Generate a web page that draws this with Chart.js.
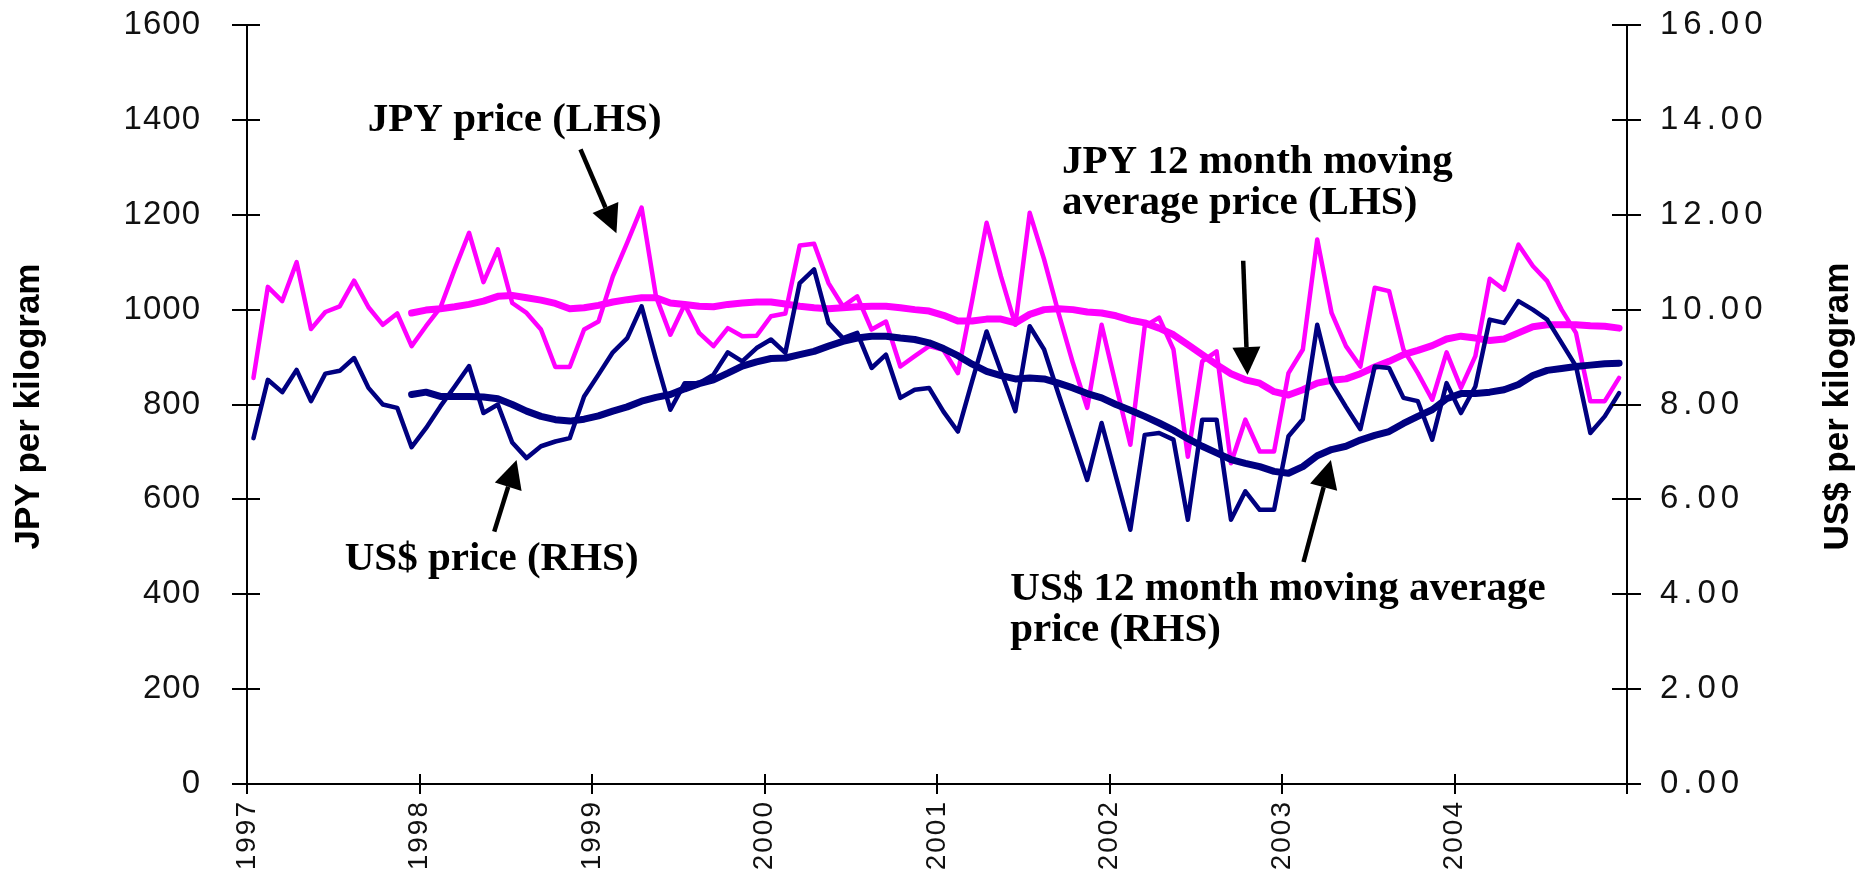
<!DOCTYPE html>
<html>
<head>
<meta charset="utf-8">
<title>JPY and US$ price per kilogram, 1997-2004</title>
<script src="https://cdn.jsdelivr.net/npm/chart.js@4.4.1/dist/chart.umd.min.js"></script>
<style>
  html, body { margin: 0; padding: 0; background: #fff; }
  #wrap { position: relative; width: 1862px; height: 882px; }
</style>
</head>
<body>
<div id="wrap"><canvas id="prices"></canvas></div>
<script>
// monthly series, Jan 1997 .. Dec 2004
const years = ['1997', '1998', '1999', '2000', '2001', '2002', '2003', '2004'];

const jpyPrice = [
  856, 1048, 1018, 1100, 959, 995, 1007, 1061, 1005, 968, 992, 923,
  965, 1004, 1085, 1162, 1058, 1127, 1014, 993, 958, 879, 879, 958,
  975, 1070, 1141, 1215, 1028, 947, 1011, 951, 923, 961, 944, 945,
  986, 992, 1135, 1139, 1056, 1007, 1028, 958, 975, 880, 902, 923,
  915, 866, 1020, 1183, 1070, 968, 1204, 1106, 993, 888, 793, 968,
  840, 715, 965, 983, 916, 690, 891, 912, 676, 768, 701, 701,
  866, 916, 1148, 993, 923, 880, 1046, 1039, 916, 866, 810, 910,
  835, 902, 1065, 1042, 1137, 1092, 1060, 1000, 951, 807, 807, 856
];

const usdPrice = [
  7.29, 8.52, 8.26, 8.73, 8.07, 8.65, 8.71, 8.98, 8.35, 8.00, 7.93, 7.10,
  7.50, 7.96, 8.38, 8.81, 7.82, 8.00, 7.20, 6.87, 7.12, 7.22, 7.29, 8.17,
  8.63, 9.10, 9.40, 10.07, 8.95, 7.89, 8.45, 8.45, 8.63, 9.10, 8.91, 9.19,
  9.37, 9.09, 10.56, 10.85, 9.72, 9.40, 9.51, 8.77, 9.05, 8.14, 8.31, 8.35,
  7.85, 7.43, 8.50, 9.54, 8.70, 7.86, 9.65, 9.16, 8.22, 7.32, 6.41, 7.61,
  6.48, 5.36, 7.36, 7.40, 7.26, 5.57, 7.68, 7.68, 5.57, 6.17, 5.78, 5.78,
  7.33, 7.69, 9.68, 8.45, 7.95, 7.48, 8.80, 8.77, 8.14, 8.07, 7.26, 8.45,
  7.82, 8.38, 9.79, 9.72, 10.18, 10.00, 9.79, 9.30, 8.81, 7.40, 7.75, 8.24
];

// 12 month moving averages, first value is Dec 1997
const avgStart = 11;

const jpyAvg = [
  993,
  999, 1002, 1006, 1011, 1018, 1028, 1030, 1025, 1020, 1013, 1002, 1004,
  1009, 1016, 1021, 1025, 1025, 1014, 1011, 1007, 1006, 1011, 1014, 1016,
  1016, 1012, 1007, 1004, 1002, 1004, 1006, 1007, 1007, 1004, 1000, 997,
  988, 976, 976, 980, 980, 972, 990, 1000, 1002, 1000, 995, 993,
  987, 978, 972, 961, 947, 926, 905, 884, 865, 852, 845, 827,
  820, 831, 845, 851, 854, 865, 879, 891, 905, 914, 924, 938,
  944, 940, 935, 938, 951, 964, 968, 968, 968, 966, 965, 961
];

const usdAvg = [
  8.21,
  8.26, 8.17, 8.17, 8.17, 8.16, 8.12, 8.00, 7.86, 7.75, 7.68, 7.65, 7.69,
  7.76, 7.86, 7.95, 8.07, 8.15, 8.21, 8.33, 8.44, 8.52, 8.66, 8.81, 8.90,
  8.97, 8.98, 9.05, 9.12, 9.23, 9.33, 9.40, 9.44, 9.44, 9.40, 9.37, 9.30,
  9.18, 9.03, 8.85, 8.70, 8.61, 8.54, 8.56, 8.54, 8.45, 8.35, 8.23, 8.14,
  8.00, 7.88, 7.75, 7.61, 7.46, 7.28, 7.12, 6.98, 6.84, 6.76, 6.69, 6.59,
  6.55, 6.69, 6.92, 7.05, 7.12, 7.25, 7.35, 7.43, 7.60, 7.75, 7.89, 8.12,
  8.23, 8.23, 8.26, 8.31, 8.42, 8.61, 8.72, 8.76, 8.80, 8.83, 8.86, 8.87
];

// callouts, placed in axis units: [month, JPY value] of the first baseline
const callouts = [
  { lines: ['JPY price (LHS)'], at: [8.4, 1376] },
  { lines: ['US$ price (RHS)'], at: [6.8, 451] },
  { lines: ['JPY 12 month moving', 'average price (LHS)'], at: [56.7, 1288] },
  { lines: ['US$ 12 month moving average', 'price (RHS)'], at: [53.1, 388] }
];
const arrows = [
  { from: [23.2, 1338], to: [25.7, 1161] },
  { from: [17.2, 532], to: [18.75, 683] },
  { from: [69.3, 1103], to: [69.6, 862] },
  { from: [73.5, 468], to: [75.4, 683] }
];

// points sit mid-month on a 0..96 month axis
const toPoints = (values, start = 0) =>
  values.map((v, i) => ({ x: start + i + 0.45, y: v }));

// letter-spaced tick labels
function spaceLabels(scale, spacing) {
  if (scale._spaced) return;
  const draw = scale.drawLabels.bind(scale);
  scale.drawLabels = function (area) {
    const ctx = this.ctx;
    ctx.save();
    ctx.letterSpacing = spacing;
    draw(area);
    ctx.restore();
  };
  scale._spaced = true;
}

function drawArrow(ctx, x0, y0, x1, y1) {
  const ang = Math.atan2(y1 - y0, x1 - x0);
  const len = 28, half = 14;
  const cos = Math.cos(ang), sin = Math.sin(ang);
  const bx = x1 - len * cos, by = y1 - len * sin;
  ctx.lineWidth = 4.5;
  ctx.beginPath();
  ctx.moveTo(x0, y0);
  ctx.lineTo(bx, by);
  ctx.stroke();
  ctx.beginPath();
  ctx.moveTo(x1, y1);
  ctx.lineTo(bx + half * sin, by - half * cos);
  ctx.lineTo(bx - half * sin, by + half * cos);
  ctx.closePath();
  ctx.fill();
}

const decorations = {
  id: 'decorations',
  beforeDraw(chart) {
    spaceLabels(chart.scales.x, '2px');
    spaceLabels(chart.scales.y, '1px');
    spaceLabels(chart.scales.y1, '5px');
  },
  afterDraw(chart) {
    const { ctx, chartArea: a, scales: { x, y, y1 } } = chart;
    ctx.save();

    // inner half of the crossing tick marks
    ctx.strokeStyle = '#000';
    ctx.lineWidth = 2;
    ctx.beginPath();
    y.ticks.forEach(t => {
      const py = Math.round(y.getPixelForValue(t.value));
      ctx.moveTo(a.left, py); ctx.lineTo(a.left + 13, py);
    });
    y1.ticks.forEach(t => {
      const py = Math.round(y1.getPixelForValue(t.value));
      ctx.moveTo(a.right - 15, py); ctx.lineTo(a.right, py);
    });
    x.ticks.forEach(t => {
      const px = Math.round(x.getPixelForValue(t.value));
      ctx.moveTo(px, a.bottom - 10); ctx.lineTo(px, a.bottom);
    });
    ctx.stroke();

    // axis titles, both reading upwards
    ctx.fillStyle = '#000';
    ctx.font = 'bold 35px "Liberation Sans", Arial, sans-serif';
    ctx.textAlign = 'center';
    ctx.textBaseline = 'middle';
    const midY = (a.top + a.bottom) / 2 + 2;
    [[y.left + 29, 'JPY per kilogram'], [y1.right - 24, 'US$ per kilogram']].forEach(([tx, text]) => {
      ctx.save();
      ctx.translate(tx, midY);
      ctx.rotate(-Math.PI / 2);
      ctx.fillText(text, 0, 0);
      ctx.restore();
    });

    // callout text
    ctx.font = 'bold 41px "Liberation Serif", "Times New Roman", serif';
    ctx.textAlign = 'left';
    ctx.textBaseline = 'alphabetic';
    callouts.forEach(c => {
      const tx = x.getPixelForValue(c.at[0]);
      const ty = y.getPixelForValue(c.at[1]);
      c.lines.forEach((line, k) => ctx.fillText(line, tx, ty + k * 41));
    });

    // arrows
    ctx.strokeStyle = '#000';
    ctx.fillStyle = '#000';
    arrows.forEach(ar => {
      drawArrow(ctx,
        x.getPixelForValue(ar.from[0]), y.getPixelForValue(ar.from[1]),
        x.getPixelForValue(ar.to[0]), y.getPixelForValue(ar.to[1]));
    });
    ctx.restore();
  }
};

const axisLine = { display: true, color: '#000', width: 2 };
const tickFont = size => ({ family: '"Liberation Sans", Arial, sans-serif', size });

new Chart(document.getElementById('prices'), {
  type: 'line',
  data: {
    datasets: [
      {
        label: 'US$ 12 month moving average price (RHS)',
        data: toPoints(usdAvg, avgStart),
        yAxisID: 'y1',
        borderColor: '#000080',
        borderWidth: 7,
        order: 0
      },
      {
        label: 'US$ price (RHS)',
        data: toPoints(usdPrice),
        yAxisID: 'y1',
        borderColor: '#000080',
        borderWidth: 4.5,
        order: 1
      },
      {
        label: 'JPY 12 month moving average price (LHS)',
        data: toPoints(jpyAvg, avgStart),
        yAxisID: 'y',
        borderColor: '#ff00ff',
        borderWidth: 7,
        order: 2
      },
      {
        label: 'JPY price (LHS)',
        data: toPoints(jpyPrice),
        yAxisID: 'y',
        borderColor: '#ff00ff',
        borderWidth: 4.5,
        order: 3
      }
    ]
  },
  options: {
    responsive: true,
    maintainAspectRatio: false,
    animation: false,
    events: [],
    layout: { padding: { top: 25, left: 0, right: 0, bottom: 0 } },
    elements: {
      point: { radius: 0 },
      line: { tension: 0, fill: false, borderJoinStyle: 'round', borderCapStyle: 'round' }
    },
    plugins: {
      legend: { display: false },
      tooltip: { enabled: false }
    },
    scales: {
      x: {
        type: 'linear',
        min: 0,
        max: 96,
        afterFit(s) { s.height = 98; s.paddingLeft = 0; s.paddingRight = 0; },
        border: axisLine,
        grid: { drawOnChartArea: false, drawTicks: true, tickLength: 10, color: '#000', lineWidth: 2 },
        ticks: {
          stepSize: 12,
          autoSkip: false,
          minRotation: 90,
          maxRotation: 90,
          padding: 6,
          color: '#111',
          font: tickFont(28),
          callback: v => years[v / 12] ?? ''
        }
      },
      y: {
        position: 'left',
        min: 0,
        max: 1600,
        afterFit(s) { s.width = 247; s.paddingTop = 0; s.paddingBottom = 0; },
        border: axisLine,
        grid: { drawOnChartArea: false, drawTicks: true, tickLength: 15, color: '#000', lineWidth: 2 },
        ticks: {
          stepSize: 200,
          padding: 31,
          color: '#111',
          font: tickFont(33),
          callback: v => String(v)
        }
      },
      y1: {
        position: 'right',
        min: 0,
        max: 16,
        afterFit(s) { s.width = 235; s.paddingTop = 0; s.paddingBottom = 0; },
        border: axisLine,
        grid: { drawOnChartArea: false, drawTicks: true, tickLength: 14, color: '#000', lineWidth: 2 },
        ticks: {
          stepSize: 2,
          padding: 19,
          color: '#111',
          font: tickFont(33),
          callback: v => v.toFixed(2)
        }
      }
    }
  },
  plugins: [decorations]
});
</script>
</body>
</html>
